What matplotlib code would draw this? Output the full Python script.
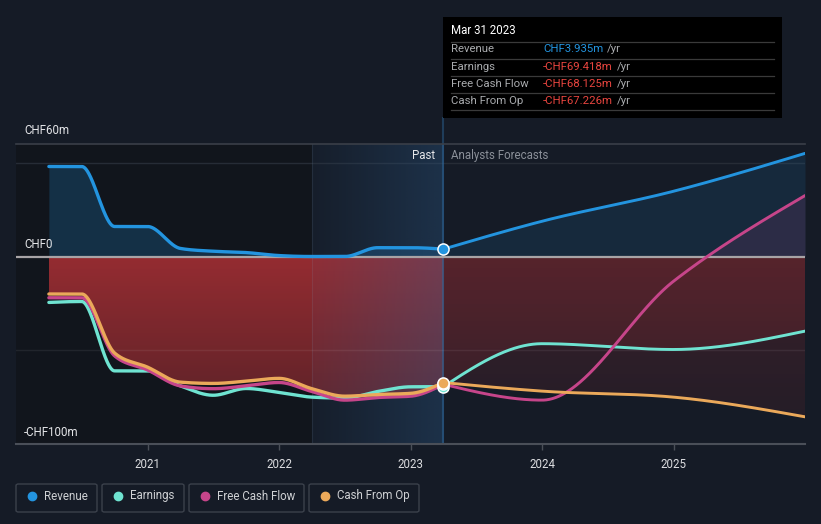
import numpy as np
import matplotlib
matplotlib.use("Agg")
import matplotlib.pyplot as plt
from matplotlib.patches import Polygon, Rectangle, FancyBboxPatch
from matplotlib.lines import Line2D

plt.rcParams['font.family'] = ['Roboto', 'DejaVu Sans']

# ---------------- data (CHF m, time in decimal years) ----------------
past_t = [2020.25, 2020.5, 2020.75, 2021.0, 2021.25, 2021.5, 2021.75,
          2022.0, 2022.25, 2022.5, 2022.75, 2023.0, 2023.25]
revenue_past = [48, 48, 16, 16, 4.3, 2.8, 2.1, 0.5, 0, 0, 4.7, 4.7, 3.935]
earnings_past = [-24.5, -24, -61, -61, -69, -74, -70.4, -72.5, -75, -75.5, -72, -69.5, -69.418]
fcf_past = [-22, -22, -53, -60.5, -69, -70.5, -69, -67.2, -72, -76.6, -75.2, -74.5, -68.125]
cfo_past = [-20, -20, -51.5, -59, -67, -67.7, -66.5, -65, -70.5, -74.5, -73.6, -73, -67.226]

fc_t = [2023.25, 2024.0, 2025.0, 2026.0]
revenue_fc = [3.935, 18.8, 34.8, 55]
earnings_fc = [-69.418, -46.5, -49.6, -39.8]
fcf_fc = [-68.125, -76.6, -13.2, 32.5]
cfo_fc = [-67.226, -71.8, -75, -85.5]

x_ticks = [2021, 2022, 2023, 2024, 2025]
x_labels = ["2021", "2022", "2023", "2024", "2025"]
y_labels = ["CHF60m", "CHF0", "-CHF100m"]
series_names = ["Revenue", "Earnings", "Free Cash Flow", "Cash From Op"]
series_colors = ["#2394df", "#6fe3d1", "#c6458a", "#eba95a"]
tooltip_date = "Mar 31 2023"
tooltip_vals = ["CHF3.935m", "-CHF69.418m", "-CHF68.125m", "-CHF67.226m"]
past_start, today = 2022.25, 2023.25

# ---------------- helpers ----------------
def monotone(x, y, n=300):
    x = np.asarray(x, float); y = np.asarray(y, float)
    h = np.diff(x); s = np.diff(y) / h
    m = np.zeros_like(y)
    for k in range(1, len(x) - 1):
        p = (s[k-1] * h[k] + s[k] * h[k-1]) / (h[k-1] + h[k])
        m[k] = (np.sign(s[k-1]) + np.sign(s[k])) * min(abs(s[k-1]), abs(s[k]), 0.5 * abs(p))
    if len(x) > 2:
        m[0] = (3 * s[0] - m[1]) / 2
        m[-1] = (3 * s[-1] - m[-2]) / 2
    else:
        m[:] = s[0]
    xs, ys = [], []
    for k in range(len(x) - 1):
        tt = np.linspace(0, 1, n, endpoint=(k == len(x) - 2))
        hk = h[k]
        h00 = 2*tt**3 - 3*tt**2 + 1; h10 = tt**3 - 2*tt**2 + tt
        h01 = -2*tt**3 + 3*tt**2; h11 = tt**3 - tt**2
        xs.append(x[k] + tt * hk)
        ys.append(h00*y[k] + h10*hk*m[k] + h01*y[k+1] + h11*hk*m[k+1])
    return np.concatenate(xs), np.concatenate(ys)

W, H = 821, 524
fig = plt.figure(figsize=(W/100, H/100), dpi=100, facecolor="#151b26")
ax = fig.add_axes([16/W, (H-444)/H, 789/W, 300/H])
ax.set_facecolor("#151b26")
ax.set_xlim(2020.0, 2026.0)
ax.set_ylim(-100, 60)
for sp in ax.spines.values():
    sp.set_visible(False)

def vgrad_fill(xc, yc, rgb, a_top, a_bot, y_top, y_bot, x0, x1, z):
    poly_x = np.concatenate([xc, xc[::-1]])
    poly_y = np.concatenate([np.minimum(yc, 0), np.zeros_like(yc)])
    poly = Polygon(np.column_stack([poly_x, poly_y]), closed=True, facecolor="none", edgecolor="none")
    ax.add_patch(poly)
    n = 200
    a = np.linspace(a_top, a_bot, n)[:, None]
    img = np.zeros((n, 2, 4))
    img[..., 0] = rgb[0]; img[..., 1] = rgb[1]; img[..., 2] = rgb[2]
    img[..., 3] = a
    im = ax.imshow(img, extent=[x0, x1, y_bot, y_top], aspect="auto", zorder=z, interpolation="bilinear")
    im.set_clip_path(poly)

# dark past background
ax.axvspan(2020.0, past_start, color="#11151c", zorder=0, lw=0)

# curves
pr = monotone(past_t, revenue_past); fr = monotone(fc_t, revenue_fc)
pe = monotone(past_t, earnings_past); fe = monotone(fc_t, earnings_fc)
pf = monotone(past_t, fcf_past); ff = monotone(fc_t, fcf_fc)
pc = monotone(past_t, cfo_past); fcx = monotone(fc_t, cfo_fc)

# revenue fills
ax.fill_between(pr[0], 0, pr[1], color="#2394df", alpha=0.22, lw=0, zorder=1)
ax.fill_between(fr[0], 0, fr[1], color="#2394df", alpha=0.12, lw=0, zorder=1)
# fcf positive fill
ax.fill_between(ff[0], 0, np.maximum(ff[1], 0), color="#c6458a", alpha=0.13, lw=0, zorder=1)

# red fills
red = (0.68, 0.19, 0.21)
vgrad_fill(pc[0], pc[1], red, 0.85, 0.5, 0, -80, past_t[0], today, 2)
vgrad_fill(fe[0], fe[1], red, 0.25, 0.10, 0, -90, today, 2026.0, 2)
vgrad_fill(fcx[0], fcx[1], red, 0.25, 0.10, 0, -90, today, 2026.0, 2)

# highlight overlay (last 12 months)
n = 100
hl = np.zeros((2, n, 4))
hl[..., 0] = 45/255; hl[..., 1] = 95/255; hl[..., 2] = 145/255
hl[..., 3] = np.linspace(0.05, 0.33, n)[None, :]
ax.imshow(hl, extent=[past_start, today, -100, 60], aspect="auto", zorder=3, interpolation="bilinear")
ax.axvline(past_start, color="#8fa8c0", alpha=0.12, lw=0.8, zorder=3.1)
ax.axvline(today, color="#2f6a9f", alpha=0.5, lw=1.5, zorder=3.2)

# grid / axis lines
ax.axhline(50, color="#262c36", lw=1.0, zorder=0.5)
ax.axhline(-50, color="#ffffff", alpha=0.07, lw=1.0, zorder=3.5)
ax.axhline(60, color="#3a3f48", lw=1.2, zorder=4, clip_on=False)
ax.axhline(-100, color="#4a4f58", lw=1.5, zorder=4, clip_on=False)
ax.axhline(0, color="#a8a4a6", lw=1.6, zorder=4)

# lines
lw_p, lw_f = 2.4, 2.1
ax.plot(pe[0], pe[1], color=series_colors[1], lw=lw_p, zorder=5, solid_capstyle="round")
ax.plot(pf[0], pf[1], color=series_colors[2], lw=lw_p, zorder=5.1, solid_capstyle="round")
ax.plot(pc[0], pc[1], color=series_colors[3], lw=lw_p, zorder=5.2, solid_capstyle="round")
ax.plot(pr[0], pr[1], color=series_colors[0], lw=lw_p, zorder=5.3, solid_capstyle="round")
ax.plot(fe[0], fe[1], color=series_colors[1], lw=lw_f, zorder=5, solid_capstyle="round")
ax.plot(ff[0], ff[1], color=series_colors[2], lw=lw_f, zorder=5.1, solid_capstyle="round")
ax.plot(fcx[0], fcx[1], color=series_colors[3], lw=lw_f, zorder=5.2, solid_capstyle="round")
ax.plot(fr[0], fr[1], color=series_colors[0], lw=lw_f, zorder=5.3, solid_capstyle="round")

# markers at today
for vals, col, z in [(earnings_past, series_colors[1], 6), (fcf_past, series_colors[2], 6.1),
                     (cfo_past, series_colors[3], 6.2), (revenue_past, series_colors[0], 6.3)]:
    ax.plot([today], [vals[-1]], "o", ms=8, mfc=col, mec="white", mew=1.1, zorder=z, clip_on=False)

# x ticks
ax.set_xticks(x_ticks)
ax.set_xticklabels(x_labels)
ax.tick_params(axis="x", colors="#4a4f58", length=4, width=1, pad=6, labelsize=8.3, labelcolor="#dcdde0")
ax.set_yticks([])

# y labels
ytxt = dict(color="#e4e5e8", fontsize=8.3, va="center", ha="left")
fig.text(24/W, 1 - 131/H, y_labels[0], **ytxt)
fig.text(24/W, 1 - 245/H, y_labels[1], **ytxt)
fig.text(24/W, 1 - 432/H, y_labels[2], **ytxt)

# Past / forecast labels
fig.text(435/W, 1 - 156/H, "Past", color="#e6e7ea", fontsize=8.3, ha="right", va="center")
fig.text(451/W, 1 - 156/H, "Analysts Forecasts", color="#8b9099", fontsize=8.3, ha="left", va="center")

# today line above the axes (up to tooltip)
fig.add_artist(Line2D([443/W, 443/W], [1 - 118/H, 1 - 144/H], color="#1f3d5a", lw=1.5, zorder=-1))

# tooltip
fig.add_artist(Rectangle((443/W, 1 - 118/H), 339/W, 101/H, facecolor="#000000", edgecolor="none", zorder=10))
fig.text(451/W, 1 - 31/H, tooltip_date, color="#ffffff", fontsize=8.3, ha="left", va="center", zorder=11)
for yy in [41.5, 58.5, 75.5, 92.5, 110]:
    fig.add_artist(Line2D([451/W, 774/W], [1 - yy/H, 1 - yy/H], color="#3a3a3a", lw=0.9, zorder=11))
renderer = fig.canvas.get_renderer()
row_y = [49.5, 66.5, 84, 101]
val_cols = ["#2394df", "#e8453f", "#e8453f", "#e8453f"]
for name, val, yy, vc in zip(series_names, tooltip_vals, row_y, val_cols):
    fig.text(451/W, 1 - yy/H, name, color="#a9abae", fontsize=8.2, ha="left", va="center", zorder=11)
    t = fig.text(543/W, 1 - yy/H, val, color=vc, fontsize=8.2, ha="left", va="center", zorder=11)
    bb = t.get_window_extent(renderer)
    fig.text((bb.x1 + 4)/W, 1 - yy/H, "/yr", color="#a9abae", fontsize=8.2, ha="left", va="center", zorder=11)

# legend
boxes = [(16, 97), (102, 184), (189, 304), (309, 419)]
for (x0, x1), name, col in zip(boxes, series_names, series_colors):
    fig.add_artist(FancyBboxPatch((x0/W, 1 - 512/H), (x1 - x0)/W, 28/H,
                                  boxstyle="round,pad=0,rounding_size=0.003",
                                  facecolor="none", edgecolor="#3b414b", lw=1.0))
    fig.add_artist(Line2D([(x0 + 16)/W], [1 - 496/H], marker="o", ms=6, color=col, mec=col, lw=0))
    fig.text((x0 + 28)/W, 1 - 496/H, name, color="#cfd1d4", fontsize=8.3, ha="left", va="center")

fig.savefig("out.png", dpi=100, facecolor=fig.get_facecolor())
